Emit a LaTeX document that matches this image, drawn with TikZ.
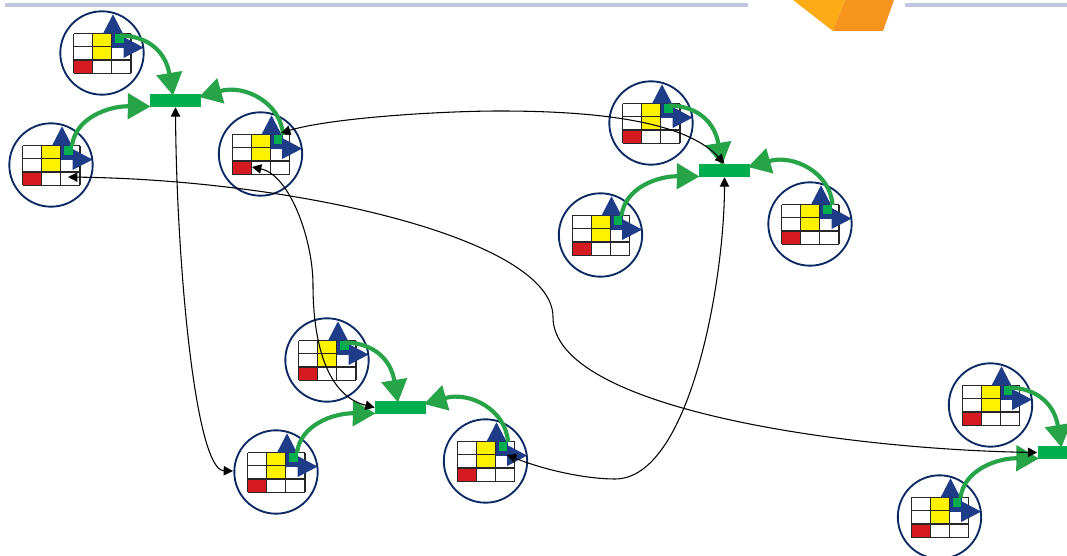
\documentclass[tikz,border=0pt]{standalone}
\usetikzlibrary{arrows.meta}
\definecolor{ringblue}{HTML}{0B2A63}
\definecolor{arrowblue}{HTML}{1F3C88}
\definecolor{busgreen}{HTML}{00AE4F}
\definecolor{flowgreen}{HTML}{27A348}
\definecolor{cellred}{HTML}{D51A22}
\definecolor{stripblue}{HTML}{C0C6E0}
\definecolor{orangeA}{HTML}{FBAB14}
\definecolor{orangeB}{HTML}{F7941D}
\tikzset{
  x=0.75pt,y=-0.75pt,
  busbar/.style={fill=busgreen,draw=none,rectangle,inner sep=0pt,minimum width=38.25pt,minimum height=9.75pt},
  flow/.style={draw=flowgreen,line width=3.1pt,-{Triangle[length=17pt,width=19pt,fill=flowgreen]}},
  link/.style={draw=black,line width=0.8pt,{Triangle[length=7pt,width=7pt]}-{Triangle[length=7pt,width=7pt]}},
  unit/.pic={
    \fill[white] (0,0) circle[radius=41.7];
    \fill[yellow] (-9.3,-19.4) rectangle (9.8,7);
    \fill[cellred] (-28.4,7) rectangle (-9.3,20.3);
    \foreach \gx in {-28.4,-9.3,9.8,29} {\draw[black!85,line width=0.9pt] (\gx,-19.4) -- (\gx,20.3);}
    \foreach \gy in {-19.4,-6.2,7,20.3} {\draw[black!85,line width=0.9pt] (-28.4,\gy) -- (29,\gy);}
    \fill[arrowblue] (10,-19.4) rectangle (22,-5);
    \fill[arrowblue] (11,-38.7) -- (21,-19.4) -- (1,-19.4) -- cycle;
    \fill[arrowblue] (41.6,-5.4) -- (21.6,5) -- (21.6,-16) -- cycle;
    \fill[busgreen] (13.3,-19) rectangle (21.6,-9.7);
    \draw[ringblue,line width=1.4pt] (0,0) circle[radius=41.7];
    \coordinate (-a) at (18,-17.5);
    \coordinate (-b) at (21,-19);
    \coordinate (-c) at (22.5,-19);
  },
  buspoints/.pic={
    \coordinate (-t) at (-2.5,-5);
    \coordinate (-l) at (-25,6);
    \coordinate (-r) at (23.5,-3.5);
  }
}
\begin{document}
\begin{tikzpicture}
\path[use as bounding box,clip] (0,0) rectangle (1067,556);
\fill[white] (0,0) rectangle (1067,556);
% header
\fill[stripblue] (5,3.3) rectangle (748,7.5);
\fill[stripblue] (905,3.3) rectangle (1067,7.5);
\fill[orangeA] (793,0) -- (833,31) -- (845,0) -- cycle;
\fill[orangeB] (845,0) -- (833,31) -- (883,31) -- (894,0) -- cycle;
% units
\pic (u1) at (102,53) {unit};
\pic (u2) at (51,165) {unit};
\pic (u3) at (260.5,154) {unit};
\pic (u4) at (651,123) {unit};
\pic (u5) at (600.5,235) {unit};
\pic (u6) at (810,224) {unit};
\pic (u7) at (327,360) {unit};
\pic (u8) at (276,472) {unit};
\pic (u9) at (485.5,461) {unit};
\pic (u10) at (990.5,405) {unit};
\pic (u11) at (939.5,517) {unit};
% bars
\node[busbar] (b1) at (175.5,100.5) {};
\node[busbar] (b2) at (724.5,170.5) {};
\node[busbar] (b3) at (400.5,407.5) {};
\node[busbar] (b4) at (1063,452.5) {};
\pic (p1) at (b1) {buspoints};
\pic (p2) at (b2) {buspoints};
\pic (p3) at (b3) {buspoints};
\pic (p4) at (1064,452.5) {buspoints};
% green flows
\newcommand{\topflow}[2]{\draw[flow] (#1-a) .. controls +(30,0.5) and +(-7,-42) .. (#2-t);}
\newcommand{\leftflow}[2]{\draw[flow] (#1-b) .. controls +(3,-28) and +(-42,-0.5) .. (#2-l);}
\newcommand{\rightflow}[2]{\draw[flow] (#1-c) .. controls +(-2,-32) and +(46,-13) .. (#2-r);}
\topflow{u1}{p1} \leftflow{u2}{p1} \rightflow{u3}{p1}
\topflow{u4}{p2} \leftflow{u5}{p2} \rightflow{u6}{p2}
\topflow{u7}{p3} \leftflow{u8}{p3} \rightflow{u9}{p3}
\topflow{u10}{p4} \leftflow{u11}{p4}
% black links
\coordinate (c1) at (233,471);
\coordinate (c2) at (252,167);
\coordinate (c3) at (68,177);
\coordinate (c4) at (281,133);
\coordinate (c5) at (507,455);
\coordinate (m2) at (313,285);
\coordinate (m3) at (553,317);
\coordinate (m4) at (500,111);
\coordinate (m5) at (615,479);
\draw[link] (b1.south) .. controls +(1,153) and +(-38,-1) .. (c1);
\draw[link] (c2) .. controls +(38,8) and +(0,-45) .. (m2) .. controls +(0,55) and +(-49,-12) .. (b3.west);
\draw[link] (c3) .. controls +(232,3) and +(0,-77) .. (m3) .. controls +(0,93) and +(-187,-3) .. (b4.west);
\draw[link] (c4) .. controls +(49,-15) and +(-60,0) .. (m4) .. controls +(120,0) and +(-34,-37) .. (b2.north);
\draw[link] (c5) .. controls +(43,17) and +(-25,0) .. (m5) .. controls +(75,0) and +(0,103) .. (b2.south);
\end{tikzpicture}
\end{document}
